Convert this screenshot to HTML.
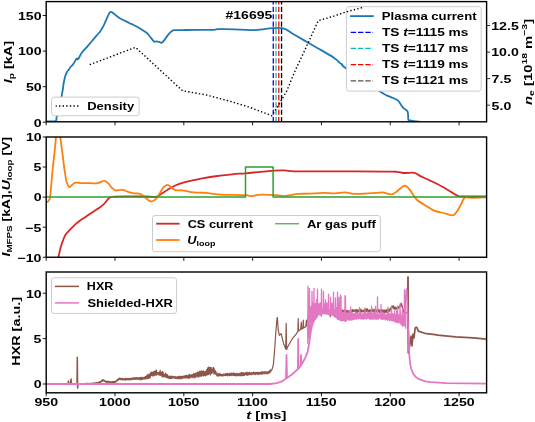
<!DOCTYPE html>
<html><head><meta charset="utf-8"><style>
html,body{margin:0;padding:0;background:#fff;width:535px;height:422px;overflow:hidden}
svg{display:block;will-change:transform}
</style></head><body>
<svg width="535" height="422" viewBox="0 0 535 422"><defs>
<clipPath id="c0"><rect x="46.2" y="1.6" width="440.40000000000003" height="120.2"/></clipPath>
<clipPath id="c1"><rect x="46.2" y="137.0" width="440.40000000000003" height="120.25"/></clipPath>
<clipPath id="c2"><rect x="46.2" y="272.0" width="440.40000000000003" height="120.80000000000001"/></clipPath>
</defs>
<g clip-path="url(#c0)">
<path d="M46.50,121.30 C48.00,121.28 53.83,121.80 55.50,121.20 C57.17,120.60 56.12,119.15 56.50,117.70 C56.88,116.25 57.30,114.62 57.80,112.50 C58.30,110.38 58.90,107.60 59.50,105.00 C60.10,102.40 60.88,99.27 61.40,96.90 C61.92,94.53 62.22,93.12 62.60,90.80 C62.98,88.48 63.27,85.43 63.70,83.00 C64.13,80.57 64.68,77.98 65.20,76.20 C65.72,74.42 66.15,73.47 66.80,72.30 C67.45,71.13 68.47,70.10 69.10,69.20 C69.73,68.30 70.22,67.40 70.60,66.90 C70.98,66.40 70.92,66.72 71.40,66.20 C71.88,65.68 72.77,64.88 73.50,63.80 C74.23,62.72 75.22,60.60 75.80,59.70 C76.38,58.80 76.67,58.45 77.00,58.40 C77.33,58.35 77.53,59.38 77.80,59.40 C78.07,59.42 77.97,59.55 78.60,58.50 C79.23,57.45 80.27,54.97 81.60,53.10 C82.93,51.23 84.93,49.23 86.60,47.30 C88.27,45.37 89.95,43.43 91.60,41.50 C93.25,39.57 94.98,37.50 96.50,35.70 C98.02,33.90 99.45,32.50 100.70,30.70 C101.95,28.90 103.03,26.83 104.00,24.90 C104.97,22.97 105.75,20.77 106.50,19.10 C107.25,17.43 107.95,16.02 108.50,14.90 C109.05,13.78 109.30,12.87 109.80,12.40 C110.30,11.93 110.90,11.95 111.50,12.10 C112.10,12.25 112.58,12.68 113.40,13.30 C114.22,13.92 115.33,14.98 116.40,15.80 C117.47,16.62 118.42,17.38 119.80,18.20 C121.18,19.02 123.05,19.87 124.70,20.70 C126.35,21.53 127.98,22.37 129.70,23.20 C131.42,24.03 133.28,24.82 135.00,25.70 C136.72,26.58 138.07,27.32 140.00,28.50 C141.93,29.68 144.95,31.47 146.60,32.80 C148.25,34.13 148.67,35.05 149.90,36.50 C151.13,37.95 152.90,40.70 154.00,41.50 C155.10,42.30 155.67,41.25 156.50,41.30 C157.33,41.35 158.17,41.55 159.00,41.80 C159.83,42.05 160.67,43.00 161.50,42.80 C162.33,42.60 162.90,41.93 164.00,40.60 C165.10,39.27 166.72,36.45 168.10,34.80 C169.48,33.15 171.18,31.48 172.30,30.70 C173.42,29.92 173.52,30.20 174.80,30.10 C176.08,30.00 178.13,30.12 180.00,30.10 C181.87,30.08 182.67,30.03 186.00,30.00 C189.33,29.97 195.33,29.93 200.00,29.90 C204.67,29.87 211.17,29.92 214.00,29.80 C216.83,29.68 215.17,29.30 217.00,29.20 C218.83,29.10 221.17,29.13 225.00,29.20 C228.83,29.27 235.02,29.45 240.00,29.60 C244.98,29.75 251.23,30.13 254.90,30.10 C258.57,30.07 259.50,29.68 262.00,29.40 C264.50,29.12 266.35,28.58 269.90,28.40 C273.45,28.22 279.57,27.45 283.30,28.30 C287.03,29.15 288.68,31.40 292.30,33.50 C295.92,35.60 302.38,39.38 305.00,40.90 C307.62,42.42 305.32,41.07 308.00,42.60 C310.68,44.13 316.73,47.55 321.10,50.10 C325.47,52.65 331.05,55.73 334.20,57.90 C337.35,60.07 338.65,61.98 340.00,63.10 C341.35,64.22 341.27,63.70 342.30,64.60 C343.33,65.50 339.78,63.92 346.20,68.50 C352.62,73.08 374.13,87.67 380.80,92.10 C387.47,96.53 384.27,94.15 386.20,95.10 C388.13,96.05 390.47,96.92 392.40,97.80 C394.33,98.68 396.38,99.25 397.80,100.40 C399.22,101.55 400.00,103.47 400.90,104.70 C401.80,105.93 402.08,106.65 403.20,107.80 C404.32,108.95 406.75,109.68 407.60,111.60 C408.45,113.52 408.00,117.83 408.30,119.30 C408.60,120.77 408.42,120.08 409.40,120.40 C410.38,120.72 412.43,121.00 414.20,121.20 C415.97,121.40 419.03,121.53 420.00,121.60" fill="none" stroke="#1f77b4" stroke-width="1.8" stroke-linejoin="round" />
<line x1="273.28125" y1="1.6" x2="273.28125" y2="121.8" stroke="#0000ff" stroke-width="1.3" stroke-dasharray="5.15 2.2" stroke-dashoffset="2.15"/>
<line x1="276.03375" y1="1.6" x2="276.03375" y2="121.8" stroke="#20b2aa" stroke-width="1.3" stroke-dasharray="5.15 2.2" stroke-dashoffset="2.15"/>
<line x1="278.78625" y1="1.6" x2="278.78625" y2="121.8" stroke="#ff0000" stroke-width="1.3" stroke-dasharray="5.15 2.2" stroke-dashoffset="2.15"/>
<line x1="281.53875" y1="1.6" x2="281.53875" y2="121.8" stroke="#000000" stroke-width="1.3" stroke-dasharray="5.15 2.2" stroke-dashoffset="2.15"/>
</g>
<g clip-path="url(#c1)">
<path d="M58.20,258.00 C58.62,256.20 59.87,250.23 60.70,247.20 C61.53,244.17 62.37,241.93 63.20,239.80 C64.03,237.67 64.58,236.07 65.70,234.40 C66.82,232.73 68.38,231.40 69.90,229.80 C71.42,228.20 73.15,226.32 74.80,224.80 C76.45,223.28 78.13,221.93 79.80,220.70 C81.47,219.47 83.13,218.52 84.80,217.40 C86.47,216.28 88.15,215.12 89.80,214.00 C91.45,212.88 93.05,211.80 94.70,210.70 C96.35,209.60 98.18,208.50 99.70,207.40 C101.22,206.30 102.82,204.98 103.80,204.10 C104.78,203.22 104.90,202.93 105.60,202.10 C106.30,201.27 107.22,199.88 108.00,199.10 C108.78,198.32 109.13,197.82 110.30,197.40 C111.47,196.98 111.72,196.77 115.00,196.60 C118.28,196.43 125.00,196.42 130.00,196.40 C135.00,196.38 140.67,196.43 145.00,196.50 C149.33,196.57 153.22,197.28 156.00,196.80 C158.78,196.32 159.82,194.75 161.70,193.60 C163.58,192.45 165.12,191.20 167.30,189.90 C169.48,188.60 172.00,187.05 174.80,185.80 C177.60,184.55 180.98,183.33 184.10,182.40 C187.22,181.47 190.85,180.78 193.50,180.20 C196.15,179.62 196.63,179.52 200.00,178.90 C203.37,178.28 208.30,177.27 213.70,176.50 C219.10,175.73 227.10,174.83 232.40,174.30 C237.70,173.77 240.83,173.72 245.50,173.30 C250.17,172.88 256.05,172.20 260.40,171.80 C264.75,171.40 267.85,171.15 271.60,170.90 C275.35,170.65 279.00,170.23 282.90,170.30 C286.80,170.37 287.15,171.13 295.00,171.30 C302.85,171.47 315.00,171.25 330.00,171.30 C345.00,171.35 373.87,171.52 385.00,171.60 C396.13,171.68 393.70,171.57 396.80,171.80 C399.90,172.03 400.67,172.83 403.60,173.00 C406.53,173.17 411.62,172.28 414.40,172.80 C417.18,173.32 417.68,174.80 420.30,176.10 C422.92,177.40 426.50,178.87 430.10,180.60 C433.70,182.33 438.30,184.53 441.90,186.50 C445.50,188.47 449.02,190.83 451.70,192.40 C454.38,193.97 456.03,195.25 458.00,195.90 C459.97,196.55 458.73,196.23 463.50,196.30 C468.27,196.37 482.75,196.30 486.60,196.30" fill="none" stroke="#d62728" stroke-width="1.8" stroke-linejoin="round" />
<path d="M46.50,201.50 C46.67,201.57 47.07,202.15 47.50,201.90 C47.93,201.65 48.63,201.02 49.10,200.00 C49.57,198.98 49.75,200.55 50.30,195.80 C50.85,191.05 51.68,178.87 52.40,171.50 C53.12,164.13 53.98,157.52 54.60,151.60 C55.22,145.68 55.70,139.93 56.10,136.00 C56.50,132.07 56.63,129.67 57.00,128.00 C57.37,126.33 57.88,125.67 58.30,126.00 C58.72,126.33 59.18,128.23 59.50,130.00 C59.82,131.77 59.72,132.73 60.20,136.60 C60.68,140.47 61.68,147.67 62.40,153.20 C63.12,158.73 63.82,165.10 64.50,169.80 C65.18,174.50 65.83,178.63 66.50,181.40 C67.17,184.17 67.93,185.48 68.50,186.40 C69.07,187.32 69.27,187.18 69.90,186.90 C70.53,186.62 71.33,185.40 72.30,184.70 C73.27,184.00 74.17,182.97 75.70,182.70 C77.23,182.43 79.15,183.03 81.50,183.10 C83.85,183.17 87.32,183.05 89.80,183.10 C92.28,183.15 94.47,183.63 96.40,183.40 C98.33,183.17 100.02,182.12 101.40,181.70 C102.78,181.28 103.53,180.62 104.70,180.90 C105.87,181.18 107.17,182.22 108.40,183.40 C109.63,184.58 110.85,186.82 112.10,188.00 C113.35,189.18 114.18,190.18 115.90,190.50 C117.62,190.82 120.38,189.68 122.40,189.90 C124.42,190.12 126.13,191.23 128.00,191.80 C129.87,192.37 131.72,193.00 133.60,193.30 C135.48,193.60 137.73,193.23 139.30,193.60 C140.87,193.97 141.60,194.50 143.00,195.50 C144.40,196.50 146.30,198.60 147.70,199.60 C149.10,200.60 150.17,201.50 151.40,201.50 C152.63,201.50 153.85,200.75 155.10,199.60 C156.35,198.45 157.48,196.68 158.90,194.60 C160.32,192.52 162.20,188.72 163.60,187.10 C165.00,185.48 166.07,184.90 167.30,184.90 C168.53,184.90 169.60,186.20 171.00,187.10 C172.40,188.00 173.83,189.77 175.70,190.30 C177.57,190.83 179.87,190.05 182.20,190.30 C184.53,190.55 186.73,191.40 189.70,191.80 C192.67,192.20 197.25,192.52 200.00,192.70 C202.75,192.88 203.30,192.63 206.20,192.90 C209.10,193.17 213.97,193.98 217.40,194.30 C220.83,194.62 222.12,194.65 226.80,194.80 C231.48,194.95 241.45,194.98 245.50,195.20 C249.55,195.42 248.92,196.17 251.10,196.10 C253.28,196.03 255.48,195.02 258.60,194.80 C261.72,194.58 266.70,194.73 269.80,194.80 C272.90,194.87 274.72,194.98 277.20,195.20 C279.68,195.42 282.57,196.10 284.70,196.10 C286.83,196.10 287.57,195.57 290.00,195.20 C292.43,194.83 296.18,194.15 299.30,193.90 C302.42,193.65 304.65,193.87 308.70,193.70 C312.75,193.53 319.23,192.97 323.60,192.90 C327.97,192.83 331.32,193.38 334.90,193.30 C338.48,193.22 341.98,192.30 345.10,192.40 C348.22,192.50 350.32,193.68 353.60,193.90 C356.88,194.12 361.07,193.87 364.80,193.70 C368.53,193.53 372.88,193.12 376.00,192.90 C379.12,192.68 382.00,192.38 383.50,192.40 C385.00,192.42 383.60,192.68 385.00,193.00 C386.40,193.32 389.93,194.57 391.90,194.30 C393.87,194.03 395.00,192.70 396.80,191.40 C398.60,190.10 401.23,187.42 402.70,186.50 C404.17,185.58 404.47,185.42 405.60,185.90 C406.73,186.38 408.18,187.83 409.50,189.40 C410.82,190.97 412.18,193.50 413.50,195.30 C414.82,197.10 415.60,198.63 417.40,200.20 C419.20,201.77 421.52,202.97 424.30,204.70 C427.08,206.43 430.83,209.22 434.10,210.60 C437.37,211.98 440.80,212.22 443.90,213.00 C447.00,213.78 450.58,215.47 452.70,215.30 C454.82,215.13 455.28,213.70 456.60,212.00 C457.92,210.30 459.45,207.22 460.60,205.10 C461.75,202.98 462.68,200.60 463.50,199.30 C464.32,198.00 464.18,197.53 465.50,197.30 C466.82,197.07 467.88,197.90 471.40,197.90 C474.92,197.90 484.07,197.40 486.60,197.30" fill="none" stroke="#ff7f0e" stroke-width="1.8" stroke-linejoin="round" />
<polyline points="46.20,197.10 245.50,197.10 245.50,167.10 273.10,167.10 273.10,197.10 486.60,197.10" fill="none" stroke="#2ca02c" stroke-width="1.5" stroke-linejoin="round" stroke-linecap="butt" />
</g>
<g clip-path="url(#c2)">
<polyline points="46.20,384.00 68.00,384.00 68.50,381.10 69.00,384.00 70.60,384.00 71.00,378.90 71.50,384.00 77.00,384.00 77.30,357.20 77.60,388.10 78.00,384.20" fill="none" stroke="#8c564b" stroke-width="1.5" stroke-linejoin="round" stroke-linecap="butt" />
<polyline points="78.00,384.20 78.00,383.79 78.30,383.97 78.60,383.84 78.90,384.16 79.20,383.60 79.50,383.91 79.80,383.59 80.10,384.13 80.40,383.71 80.70,384.05 81.00,383.74 81.30,384.12 81.60,383.78 81.90,384.10 82.20,383.73 82.50,384.14 82.80,383.62 83.10,384.15 83.40,383.56 83.70,384.05 84.00,383.68 84.30,384.00 84.60,383.45 84.90,383.82 85.20,383.71 85.50,383.84 85.80,383.49 86.10,384.00 86.40,383.47 86.70,384.09 87.00,383.39 87.30,383.95 87.60,383.40 87.90,384.06 88.20,383.64 88.50,383.94 88.80,383.39 89.10,383.87 89.40,383.41 89.70,383.91 90.00,383.40 90.30,383.89 90.60,383.47 90.90,383.84 91.20,383.33 91.50,383.70 91.80,383.46 92.10,383.90 92.40,383.11 92.70,383.89 93.00,383.41 93.30,383.51 93.60,383.04 93.90,383.45 94.20,382.97 94.50,383.61 94.80,383.04 95.10,383.37 95.40,382.70 95.70,383.52 96.00,382.80 96.30,383.54 96.60,382.44 96.90,383.21 97.20,382.64 97.50,382.91 97.80,382.46 98.10,382.78 98.40,382.22 98.70,382.59 99.00,382.05 99.30,382.54 99.60,381.62 99.90,382.76 100.20,381.62 100.50,382.52 100.80,381.44 101.10,381.90 101.40,380.60 101.70,381.31 102.00,380.08 102.30,381.44 102.60,379.66 102.90,380.70 103.20,379.82 103.50,380.85 103.80,379.80 104.10,381.09 104.40,380.50 104.70,381.47 105.00,381.01 105.30,381.89 105.60,380.80 105.90,381.89 106.20,381.43 106.50,382.35 106.80,381.42 107.10,382.49 107.40,381.43 107.70,382.13 108.00,381.19 108.30,382.23 108.60,381.27 108.90,382.15 109.20,381.68 109.50,382.54 109.80,381.84 110.10,382.46 110.40,381.84 110.70,382.74 111.00,381.71 111.30,382.43 111.60,381.94 111.90,382.77 112.20,381.61 112.50,382.37 112.80,381.66 113.10,382.75 113.40,381.68 113.70,382.65 114.00,381.38 114.30,382.18 114.60,381.37 114.90,382.48 115.20,381.74 115.50,382.19 115.80,381.14 116.10,381.51 116.40,380.38 116.70,381.08 117.00,380.03 117.30,380.47 117.60,379.38 117.90,380.38 118.20,378.91 118.50,380.03 118.80,378.71 119.10,379.69 119.40,378.03 119.70,379.01 120.00,378.05 120.30,379.58 120.60,378.55 120.90,379.66 121.20,378.72 121.50,379.38 121.80,378.48 122.10,379.59 122.40,378.25 122.70,380.03 123.00,379.10 123.30,379.83 123.60,378.79 123.90,379.72 124.20,378.88 124.50,379.77 124.80,378.61 125.10,380.13 125.40,378.46 125.70,380.00 126.00,378.57 126.30,379.31 126.60,378.47 126.90,379.80 127.20,378.46 127.50,379.65 127.80,378.97 128.10,379.31 128.40,378.37 128.70,379.86 129.00,378.81 129.30,379.60 129.60,378.56 129.90,379.97 130.20,378.69 130.50,379.69 130.80,378.27 131.10,379.77 131.40,378.14 131.70,379.09 132.00,378.49 132.30,379.40 132.60,378.38 132.90,379.38 133.20,377.92 133.50,379.24 133.80,377.71 134.10,379.48 134.40,378.23 134.70,379.02 135.00,377.54 135.30,379.07 135.60,378.35 135.90,379.39 136.20,377.53 136.50,379.14 136.80,377.72 137.10,379.20 137.40,377.86 137.70,379.21 138.00,377.72 138.30,379.41 138.60,378.02 138.90,379.24 139.20,377.65 139.50,378.87 139.80,377.74 140.10,379.63 140.40,377.62 140.70,379.86 141.00,377.70 141.30,378.93 141.60,377.95 141.90,379.60 142.20,377.10 142.50,379.37 142.80,377.82 143.10,379.09 143.40,377.93 143.70,378.78 144.00,377.40 144.30,378.55 144.60,377.48 144.90,379.10 145.20,376.56 145.50,378.75 145.80,376.55 146.10,378.99 146.40,376.12 146.70,377.92 147.00,375.22 147.30,378.57 147.60,374.91 147.90,378.07 148.20,376.06 148.50,378.36 148.80,374.17 149.10,377.86 149.40,374.40 149.70,377.97 150.00,374.01 150.30,377.36 150.60,372.97 150.90,375.47 151.20,372.14 151.50,375.47 151.80,372.09 152.10,375.58 152.40,372.63 152.70,375.91 153.00,372.40 153.30,373.51 153.60,371.48 153.90,375.83 154.20,371.30 154.50,374.05 154.80,371.45 155.10,375.09 155.40,372.13 155.70,373.34 156.00,370.14 156.30,375.09 156.60,370.36 156.90,373.95 157.20,372.92 157.50,373.81 157.80,372.53 158.10,374.74 158.40,372.70 158.70,374.99 159.00,373.25 159.30,374.93 159.60,371.50 159.90,375.23 160.20,370.39 160.50,374.65 160.80,372.37 161.10,375.70 161.40,373.04 161.70,374.89 162.00,371.81 162.30,376.94 162.60,371.49 162.90,376.78 163.20,372.25 163.50,376.25 163.80,374.21 164.10,376.84 164.40,374.45 164.70,376.08 165.00,374.66 165.30,376.89 165.60,373.21 165.90,376.30 166.20,374.09 166.50,377.73 166.80,375.42 167.10,376.88 167.40,374.64 167.70,377.78 168.00,376.16 168.30,377.93 168.60,376.03 168.90,378.28 169.20,376.46 169.50,378.43 169.80,376.30 170.10,378.66 170.40,376.48 170.70,377.62 171.00,375.93 171.30,378.42 171.60,376.89 171.90,378.02 172.20,376.37 172.50,378.04 172.80,376.62 173.10,377.79 173.40,376.48 173.70,377.97 174.00,376.97 174.30,378.04 174.60,376.72 174.90,378.11 175.20,377.14 175.50,378.51 175.80,376.28 176.10,377.78 176.40,377.10 176.70,378.70 177.00,377.09 177.30,378.58 177.60,376.73 177.90,377.83 178.20,376.67 178.50,378.53 178.80,376.46 179.10,378.78 179.40,376.32 179.70,378.51 180.00,376.22 180.30,378.76 180.60,376.57 180.90,378.55 181.20,376.89 181.50,377.60 181.80,376.25 182.10,378.04 182.40,376.52 182.70,378.67 183.00,375.99 183.30,377.58 183.60,376.42 183.90,377.66 184.20,375.84 184.50,377.92 184.80,376.88 185.10,377.51 185.40,375.58 185.70,377.91 186.00,375.93 186.30,377.48 186.60,375.32 186.90,378.17 187.20,376.32 187.50,377.78 187.80,375.59 188.10,376.87 188.40,375.20 188.70,378.40 189.00,375.17 189.30,378.16 189.60,374.43 189.90,377.33 190.20,375.93 190.50,377.23 190.80,375.20 191.10,377.68 191.40,374.90 191.70,376.72 192.00,374.79 192.30,376.52 192.60,374.56 192.90,377.78 193.20,374.48 193.50,377.06 193.80,373.36 194.10,376.68 194.40,374.75 194.70,377.79 195.00,373.95 195.30,376.21 195.60,373.41 195.90,377.22 196.20,373.14 196.50,376.39 196.80,373.75 197.10,376.19 197.40,372.06 197.70,375.36 198.00,374.02 198.30,377.11 198.60,372.04 198.90,376.78 199.20,373.47 199.50,374.64 199.80,371.09 200.10,376.06 200.40,371.30 200.70,375.54 201.00,373.15 201.30,376.52 201.60,370.87 201.90,375.20 202.20,371.69 202.50,374.32 202.80,371.26 203.10,375.91 203.40,370.84 203.70,373.33 204.00,371.82 204.30,375.71 204.60,371.81 204.90,375.00 205.20,371.52 205.50,375.79 205.80,371.50 206.10,375.21 206.40,369.83 206.70,373.40 207.00,369.66 207.30,374.97 207.60,367.98 207.90,374.42 208.20,367.26 208.50,374.54 208.80,367.15 209.10,373.45 209.40,367.90 209.70,372.89 210.00,367.59 210.30,374.95 210.60,367.77 210.90,372.10 211.20,367.47 211.50,373.36 211.80,369.33 212.10,373.27 212.40,369.82 212.70,371.34 213.00,367.78 213.30,371.95 213.60,367.65 213.90,373.94 214.20,368.34 214.50,372.30 214.80,370.03 215.10,373.89 215.40,370.76 215.70,374.14 216.00,371.90 216.30,374.47 216.60,373.70 216.90,375.82 217.20,374.10 217.50,375.95 217.80,372.99 218.10,375.71 218.40,374.34 218.70,376.25 219.00,374.41 219.30,375.48 219.60,373.24 219.90,375.64 220.20,373.88 220.50,375.64 220.80,374.27 221.10,375.44 221.40,374.63 221.70,376.17 222.00,374.34 222.30,375.77 222.60,374.27 222.90,375.05 223.20,374.55 223.50,375.91 223.80,373.77 224.10,374.92 224.40,374.44 224.70,375.70 225.00,374.41 225.30,375.62 225.60,373.61 225.90,375.10 226.20,373.72 226.50,375.50 226.80,373.59 227.10,375.49 227.40,373.24 227.70,375.96 228.00,374.05 228.30,375.25 228.60,373.92 228.90,374.90 229.20,373.32 229.50,375.62 229.80,373.37 230.10,375.50 230.40,373.98 230.70,375.41 231.00,373.39 231.30,375.05 231.60,373.18 231.90,375.76 232.20,373.85 232.50,374.88 232.80,373.29 233.10,375.03 233.40,372.91 233.70,375.35 234.00,373.64 234.30,375.55 234.60,373.30 234.90,375.05 235.20,373.62 235.50,375.68 235.80,373.76 236.10,375.79 236.40,374.12 236.70,375.61 237.00,373.08 237.30,375.61 237.60,374.13 237.90,375.49 238.20,373.55 238.50,374.46 238.80,374.04 239.10,375.84 239.40,373.39 239.70,375.01 240.00,373.64 240.30,375.38 240.60,373.06 240.90,375.82 241.20,372.62 241.50,374.98 241.80,372.66 242.10,375.44 242.40,373.00 242.70,375.58 243.00,372.55 243.30,374.33 243.60,373.10 243.90,375.30 244.20,373.46 244.50,375.53 244.80,372.79 245.10,374.18 245.40,373.66 245.70,374.58 246.00,372.55 246.30,374.97 246.60,372.44 246.90,375.06 247.20,372.42 247.50,375.13 247.80,373.20 248.10,375.12 248.40,372.55 248.70,374.04 249.00,372.76 249.30,374.73 249.60,372.42 249.90,374.10 250.20,373.14 250.50,374.38 250.80,373.04 251.10,374.91 251.40,372.56 251.70,374.26 252.00,373.39 252.30,373.94 252.60,372.97 252.90,374.27 253.20,372.16 253.50,373.78 253.80,372.19 254.10,374.68 254.40,372.94 254.70,373.80 255.00,373.02 255.30,374.21 255.60,372.24 255.90,374.69 256.20,373.03 256.50,373.50 256.80,372.26 257.10,373.60 257.40,372.42 257.70,374.24 258.00,372.51 258.30,374.57 258.60,372.39 258.90,374.29 259.20,372.67 259.50,373.88 259.80,372.82 260.10,373.36 260.40,372.10 260.70,374.07 261.00,372.81 261.30,373.75 261.60,371.73 261.90,374.27 262.20,372.79 262.50,373.57 262.80,371.58 263.10,373.61 263.40,372.09 263.70,373.66 264.00,372.60 264.30,372.98 264.60,371.53 264.90,373.93 265.20,371.83 265.50,373.03 265.80,372.06 266.10,373.12 266.40,371.95 266.70,373.73 267.00,372.21 267.30,373.93 267.60,372.01 267.90,373.66 268.20,371.59 268.50,372.38 268.80,371.37 269.10,373.08 269.40,370.94 269.70,372.02 270.00,370.25 270.30,372.06 270.60,369.93 270.90,371.39 271.20,369.99 272.00,369.60 273.40,364.40 274.30,354.00 276.00,330.00 277.00,318.50 277.40,317.50 278.20,330.00 279.40,335.40 281.10,333.70 283.70,343.90 285.70,349.00 286.20,323.40 286.60,349.50 287.90,346.50 292.20,338.80 296.50,333.70 297.90,331.00 298.20,318.50 298.50,331.00 300.70,329.40 301.30,322.00 301.80,329.00 303.00,328.50 303.30,320.00 303.70,328.00 305.80,326.80 306.40,320.00 307.00,326.00 308.00,318.00 308.60,311.00 308.60,309.74 308.90,310.46 309.20,309.97 309.50,311.48 309.80,309.27 310.10,310.52 310.40,308.84 310.70,310.60 311.00,310.04 311.30,311.15 311.60,309.31 311.90,311.44 312.20,309.25 312.50,311.20 312.80,309.63 313.10,311.05 313.40,310.38 313.70,310.70 314.00,309.83 314.30,310.42 314.60,309.23 314.90,311.67 315.20,309.83 315.50,311.86 315.80,308.98 316.10,311.16 316.40,309.64 316.70,310.57 317.00,309.89 317.30,311.18 317.60,309.70 317.90,311.59 318.20,308.99 318.50,311.69 318.80,310.02 319.10,311.68 319.40,309.54 319.70,311.99 320.00,310.25 320.30,311.78 320.60,309.42 320.90,310.71 321.20,316.00 321.50,310.78 321.80,310.02 322.10,310.96 322.40,309.21 322.70,311.29 323.00,309.86 323.30,310.81 323.60,309.66 323.90,311.25 324.20,309.22 324.50,311.59 324.80,309.64 325.10,311.97 325.40,310.41 325.70,311.65 326.00,310.68 326.30,311.35 326.60,310.13 326.90,311.30 327.20,310.26 327.50,312.07 327.80,309.91 328.10,311.95 328.40,309.87 328.70,312.20 329.00,310.77 329.30,312.04 329.60,310.33 329.90,311.93 330.20,316.80 330.50,311.40 330.80,309.54 331.10,311.14 331.40,310.83 331.70,311.07 332.00,310.28 332.30,312.27 332.60,309.73 332.90,311.09 333.20,310.31 333.50,312.26 333.80,310.84 334.10,311.58 334.40,310.39 334.70,312.01 335.00,310.18 335.30,312.25 335.60,309.64 335.90,311.30 336.20,310.32 336.50,311.83 336.80,310.13 337.10,311.55 337.40,309.71 337.70,312.15 338.00,319.60 338.30,312.55 338.60,311.19 338.90,311.77 339.20,310.40 339.50,311.99 339.80,311.10 340.10,312.29 340.40,310.71 340.70,311.82 341.00,310.39 341.30,312.10 341.60,311.05 341.90,311.55 342.20,310.16 342.50,311.55 342.80,309.98 343.10,318.00 343.40,311.23 343.70,312.82 344.00,310.67 344.30,311.84 344.60,310.10 344.90,312.16 345.20,311.31 345.50,312.37 345.80,311.25 346.10,312.84 346.40,310.49 346.70,312.64 347.00,310.41 347.30,312.60 347.60,311.50 347.90,312.20 348.20,310.51 348.50,312.60 348.80,311.38 349.10,312.28 349.40,311.36 349.70,312.11 350.00,310.59 350.30,311.46 350.60,310.86 350.90,316.50 351.20,310.30 351.50,311.36 351.80,310.21 352.10,311.23 352.40,309.59 352.70,311.95 353.00,310.24 353.30,311.07 353.60,309.77 353.90,311.28 354.20,310.43 354.50,311.40 354.80,310.32 355.10,310.96 355.40,309.81 355.70,311.87 356.00,309.57 356.30,312.42 356.60,309.55 356.90,310.97 357.20,310.56 357.50,312.29 357.80,310.13 358.10,311.65 358.40,310.09 358.70,311.33 359.00,309.57 359.30,310.80 359.60,309.81 359.90,311.34 360.20,310.08 360.50,312.08 360.80,309.09 361.10,311.68 361.40,310.28 361.70,310.99 362.00,310.21 362.30,312.17 362.60,310.51 362.90,310.99 363.20,310.44 363.50,311.45 363.80,310.49 364.10,312.25 364.40,308.98 364.70,312.29 365.00,309.35 365.30,311.89 365.60,309.23 365.90,311.34 366.20,308.96 366.50,311.29 366.80,309.17 367.10,311.13 367.40,308.91 367.70,311.74 368.00,310.46 368.30,311.35 368.60,310.24 368.90,311.13 369.20,309.88 369.50,311.92 369.80,309.81 370.10,312.16 370.40,310.19 370.70,310.59 371.00,310.27 371.30,312.13 371.60,309.38 371.90,311.66 372.20,309.00 372.50,311.16 372.80,310.20 373.10,311.73 373.40,310.34 373.70,310.94 374.00,309.13 374.30,311.02 374.60,310.44 374.90,312.02 375.20,309.95 375.50,311.31 375.80,310.04 376.10,312.26 376.40,310.17 376.70,311.38 377.00,310.47 377.30,311.12 377.60,309.66 377.90,311.30 378.20,310.61 378.50,311.04 378.80,309.45 379.10,312.54 379.40,310.32 379.70,312.27 380.00,310.24 380.30,311.10 380.60,310.00 380.90,312.32 381.20,310.20 381.50,311.71 381.80,309.68 382.10,312.23 382.40,309.80 382.70,311.82 383.00,311.02 383.30,312.35 383.60,310.34 383.90,312.15 384.20,310.15 384.50,312.68 384.80,310.41 385.10,312.40 385.40,310.08 385.70,311.99 386.00,310.84 386.30,312.51 386.60,309.75 386.90,311.50 387.20,309.55 387.50,312.29 387.80,309.27 388.10,312.13 388.40,310.30 388.70,311.57 389.00,309.00 389.30,310.35 389.60,309.27 389.90,311.21 390.20,308.48 390.50,309.22 390.80,307.52 391.10,308.63 391.40,306.21 391.70,307.72 392.00,306.47 392.30,306.68 392.60,306.12 392.90,307.86 393.20,305.63 393.50,308.08 393.80,307.19 394.10,309.04 394.40,306.92 394.70,308.97 395.00,308.12 395.30,308.60 395.60,307.07 395.90,309.55 396.20,307.97 396.50,308.74 396.80,307.74 397.10,308.10 397.40,307.95 397.70,308.15 398.00,307.33 398.30,308.32 398.60,306.63 398.90,308.14 399.20,306.31 399.50,306.78 399.80,305.75 400.10,306.70 400.40,304.53 400.70,305.94 401.00,303.22 401.30,304.50 401.60,303.69 401.90,306.42 402.20,305.95 402.50,308.17 402.80,307.95 403.10,310.25 403.40,311.00 403.70,312.37 404.00,310.26 404.30,311.73 404.60,311.38 404.90,312.36 407.60,313.00 408.00,276.70 408.40,352.90" fill="none" stroke="#8c564b" stroke-width="1.2" stroke-linejoin="round" stroke-linecap="butt" />
<polyline points="408.00,276.70 408.40,352.90 409.80,344.80 411.00,336.00 412.00,346.00 413.00,334.00 414.00,338.00 415.20,327.70 416.80,327.30 418.40,331.10 424.80,333.30 435.00,334.60 437.80,335.10 455.50,336.90 473.30,337.80 486.60,339.20" fill="none" stroke="#8c564b" stroke-width="1.7" stroke-linejoin="round" stroke-linecap="butt" />
<polyline points="46.20,384.00 270.00,384.00 276.80,383.10 281.90,381.40 286.00,378.60 286.50,355.00 287.00,378.00 292.20,374.30 297.90,369.00 298.20,338.80 298.50,368.80 300.70,365.50 301.00,355.00 301.30,365.00 305.00,358.40 307.50,352.40 308.50,347.00 309.60,340.50 311.00,330.20 312.70,323.40 314.60,319.60 317.50,316.20" fill="none" stroke="#e377c2" stroke-width="1.8" stroke-linejoin="round" stroke-linecap="butt" />
<polyline points="307.50,322.33 307.75,343.15 308.00,286.20 308.25,336.88 308.50,295.00 308.75,335.40 309.00,304.00 309.25,339.35 309.50,288.50 309.75,333.29 310.00,318.93 310.25,328.53 310.50,312.30 310.75,329.35 311.00,306.37 311.25,325.01 311.50,309.39 311.75,321.38 312.00,291.40 312.25,320.87 312.50,302.05 312.75,322.33 313.00,311.30 313.25,319.46 313.50,311.62 313.75,318.98 314.00,288.50 314.25,319.49 314.50,305.00 314.75,318.94 315.00,305.43 315.25,318.46 315.50,303.44 315.75,317.13 316.00,310.11 316.25,316.08 316.50,299.90 316.75,316.25 317.00,309.27 317.25,315.29 317.50,289.22 317.75,315.70 318.00,309.43 318.25,314.78 318.50,304.00 318.75,313.89 319.00,304.79 319.25,313.77 319.50,308.79 319.75,314.88 320.00,302.77 320.25,314.14 320.50,310.94 320.75,313.69 321.00,309.82 321.25,314.51 321.50,289.20 321.75,313.96 322.00,309.06 322.25,313.81 322.50,310.43 322.75,313.47 323.00,311.15 323.25,313.17 323.50,291.40 323.75,313.85 324.00,310.18 324.25,313.55 324.50,308.42 324.75,313.25 325.00,303.72 325.25,313.90 325.50,299.90 325.75,313.44 326.00,307.44 326.25,313.21 326.50,302.89 326.75,314.24 327.00,311.12 327.25,313.76 327.50,308.77 327.75,314.09 328.00,302.88 328.25,313.44 328.50,294.20 328.75,314.63 329.00,310.07 329.25,314.69 329.50,310.86 329.75,314.67 330.00,310.74 330.25,314.08 330.50,297.10 330.75,314.43 331.00,311.75 331.25,314.92 331.50,303.47 331.75,314.76 332.00,312.54 332.25,315.15 332.50,304.73 332.75,315.12 333.00,302.07 333.25,315.32 333.50,292.10 333.75,315.67 334.00,311.55 334.25,316.61 334.50,309.88 334.75,315.74 335.00,310.94 335.25,317.06 335.50,298.00 335.75,317.02 336.00,312.33 336.25,317.73 336.50,307.68 336.75,316.71 337.00,313.64 337.25,317.92 337.50,292.10 337.75,317.83 338.00,311.96 338.25,318.51 338.50,310.51 338.75,318.02 339.00,297.38 339.25,318.82 339.50,314.33 339.75,320.02 340.00,313.87 340.25,318.29 340.50,294.90 340.75,320.54 341.00,296.00 341.25,318.25 341.50,311.00 341.75,320.79 342.00,313.14 342.25,320.98 342.50,312.41 342.75,320.32 343.00,314.39 343.25,319.31 343.50,312.39 343.75,320.40 344.00,315.83 344.25,320.38 344.50,314.40 344.75,321.03 345.00,295.60 345.25,318.96 345.50,296.10 345.75,321.32 346.00,315.15 346.25,318.89 346.50,313.41 346.75,320.60 347.00,312.85 347.25,318.57 347.50,315.44 347.75,319.19 348.00,314.13 348.25,319.07 348.50,314.80 348.75,319.90 349.00,311.44 349.25,320.35 349.50,314.37 349.75,318.25 350.00,313.98 350.25,319.67 350.50,307.00 350.75,319.91 351.00,309.70 351.25,318.86 351.50,314.73 351.75,320.05 352.00,313.26 352.25,319.94 352.50,313.05 352.75,318.49 353.00,314.92 353.25,319.33 353.50,315.04 353.75,318.60 354.00,313.18 354.25,319.29 354.50,313.98 354.75,318.05 355.00,314.34 355.25,318.78 355.50,312.00 355.75,317.48 356.00,312.87 356.25,319.10 356.50,314.15 356.75,318.19 357.00,313.90 357.25,318.63 357.50,313.87 357.75,318.58 358.00,313.79 358.25,318.84 358.50,313.94 358.75,318.50 359.00,313.17 359.25,317.66 359.50,307.40 359.75,317.53 360.00,313.26 360.25,318.46 360.50,313.81 360.75,319.06 361.00,312.89 361.25,317.72 361.50,313.96 361.75,318.66 362.00,314.22 362.25,318.28 362.50,314.43 362.75,319.17 363.00,314.66 363.25,317.94 363.50,313.53 363.75,319.09 364.00,313.39 364.25,318.01 364.50,314.26 364.75,317.78 365.00,308.00 365.25,318.49 365.50,312.29 365.75,317.96 366.00,313.74 366.25,319.09 366.50,314.79 366.75,317.83 367.00,314.12 367.25,318.26 367.50,311.96 367.75,317.97 368.00,313.69 368.25,317.91 368.50,312.73 368.75,318.36 369.00,314.65 369.25,318.29 369.50,313.56 369.75,319.17 370.00,313.41 370.25,318.61 370.50,312.05 370.75,319.09 371.00,315.27 371.25,318.62 371.50,306.20 371.75,318.73 372.00,313.23 372.25,317.37 372.50,313.40 372.75,319.12 373.00,313.69 373.25,318.83 373.50,312.52 373.75,319.16 374.00,312.32 374.25,317.41 374.50,312.93 374.75,317.44 375.00,314.51 375.25,319.03 375.50,306.50 375.75,317.58 376.00,313.95 376.25,319.47 376.50,314.19 376.75,317.87 377.00,313.90 377.25,318.14 377.50,296.80 377.75,318.72 378.00,314.91 378.25,319.39 378.50,314.03 378.75,317.91 379.00,314.74 379.25,317.86 379.50,314.67 379.75,317.94 380.00,313.77 380.25,318.25 380.50,314.45 380.75,318.35 381.00,304.60 381.25,319.14 381.50,313.28 381.75,319.10 382.00,313.02 382.25,318.47 382.50,312.25 382.75,319.53 383.00,314.73 383.25,319.20 383.50,315.66 383.75,318.44 384.00,312.88 384.25,318.39 384.50,314.16 384.75,319.09 385.00,313.55 385.25,319.59 385.50,315.58 385.75,319.82 386.00,315.62 386.25,318.18 386.50,314.70 386.75,319.46 387.00,313.90 387.25,320.26 387.50,313.44 387.75,318.41 388.00,307.00 388.25,319.32 388.50,314.31 388.75,318.45 389.00,314.36 389.25,320.48 389.50,313.10 389.75,320.75 390.00,315.58 390.25,319.00 390.50,314.31 390.75,319.91 391.00,314.47 391.25,319.21 391.50,306.60 391.75,320.74 392.00,314.31 392.25,320.85 392.50,313.69 392.75,319.44 393.00,315.23 393.25,320.76 393.50,314.49 393.75,320.82 394.00,316.43 394.25,321.34 394.50,310.83 394.75,320.48 395.00,315.77 395.25,321.88 395.50,314.89 395.75,320.44 396.00,315.85 396.25,322.58 396.50,310.96 396.75,320.21 397.00,316.02 397.25,321.96 397.50,305.90 397.75,322.14 398.00,315.42 398.25,322.87 398.50,315.42 398.75,320.49 399.00,314.68 399.25,321.29 399.50,316.76 399.75,322.83 400.00,304.00 400.25,323.02 400.50,311.56 400.75,323.32 401.00,317.25 401.25,324.92 401.50,316.58 401.75,324.93 402.00,314.88 402.25,324.84 402.50,308.89 402.75,326.24 403.00,313.70 403.25,324.91 403.50,316.31 403.75,325.45 404.00,316.66 404.25,324.95 404.50,289.60 404.75,325.24 405.00,295.00 405.25,325.89 405.50,319.84 405.75,328.15 406.00,292.00 406.40,289.00 406.80,289.50 407.40,300.00 408.40,330.00 409.00,350.00" fill="none" stroke="#e377c2" stroke-width="1.3" stroke-linejoin="round" stroke-linecap="butt" />
<polyline points="408.40,330.00 409.00,350.00 409.60,358.00 410.40,365.20 411.50,369.50 413.30,374.00 416.00,377.20 419.10,379.20 425.30,381.30 430.70,382.20 446.60,383.10 486.60,383.60" fill="none" stroke="#e377c2" stroke-width="1.8" stroke-linejoin="round" stroke-linecap="butt" />
</g>
<line x1="46.20" y1="121.8" x2="46.20" y2="125.3" stroke="#000" stroke-width="0.9"/>
<line x1="115.01" y1="121.8" x2="115.01" y2="125.3" stroke="#000" stroke-width="0.9"/>
<line x1="183.82" y1="121.8" x2="183.82" y2="125.3" stroke="#000" stroke-width="0.9"/>
<line x1="252.64" y1="121.8" x2="252.64" y2="125.3" stroke="#000" stroke-width="0.9"/>
<line x1="321.45" y1="121.8" x2="321.45" y2="125.3" stroke="#000" stroke-width="0.9"/>
<line x1="390.26" y1="121.8" x2="390.26" y2="125.3" stroke="#000" stroke-width="0.9"/>
<line x1="459.07" y1="121.8" x2="459.07" y2="125.3" stroke="#000" stroke-width="0.9"/>
<line x1="46.20" y1="257.25" x2="46.20" y2="260.75" stroke="#000" stroke-width="0.9"/>
<line x1="115.01" y1="257.25" x2="115.01" y2="260.75" stroke="#000" stroke-width="0.9"/>
<line x1="183.82" y1="257.25" x2="183.82" y2="260.75" stroke="#000" stroke-width="0.9"/>
<line x1="252.64" y1="257.25" x2="252.64" y2="260.75" stroke="#000" stroke-width="0.9"/>
<line x1="321.45" y1="257.25" x2="321.45" y2="260.75" stroke="#000" stroke-width="0.9"/>
<line x1="390.26" y1="257.25" x2="390.26" y2="260.75" stroke="#000" stroke-width="0.9"/>
<line x1="459.07" y1="257.25" x2="459.07" y2="260.75" stroke="#000" stroke-width="0.9"/>
<line x1="46.20" y1="392.8" x2="46.20" y2="396.3" stroke="#000" stroke-width="0.9"/>
<line x1="115.01" y1="392.8" x2="115.01" y2="396.3" stroke="#000" stroke-width="0.9"/>
<line x1="183.82" y1="392.8" x2="183.82" y2="396.3" stroke="#000" stroke-width="0.9"/>
<line x1="252.64" y1="392.8" x2="252.64" y2="396.3" stroke="#000" stroke-width="0.9"/>
<line x1="321.45" y1="392.8" x2="321.45" y2="396.3" stroke="#000" stroke-width="0.9"/>
<line x1="390.26" y1="392.8" x2="390.26" y2="396.3" stroke="#000" stroke-width="0.9"/>
<line x1="459.07" y1="392.8" x2="459.07" y2="396.3" stroke="#000" stroke-width="0.9"/>
<line x1="46.2" y1="122.2" x2="42.7" y2="122.2" stroke="#000" stroke-width="0.9"/>
<line x1="46.2" y1="86.7" x2="42.7" y2="86.7" stroke="#000" stroke-width="0.9"/>
<line x1="46.2" y1="51.1" x2="42.7" y2="51.1" stroke="#000" stroke-width="0.9"/>
<line x1="46.2" y1="15.5" x2="42.7" y2="15.5" stroke="#000" stroke-width="0.9"/>
<line x1="46.2" y1="137.0" x2="42.7" y2="137.0" stroke="#000" stroke-width="0.9"/>
<line x1="46.2" y1="167.05" x2="42.7" y2="167.05" stroke="#000" stroke-width="0.9"/>
<line x1="46.2" y1="197.1" x2="42.7" y2="197.1" stroke="#000" stroke-width="0.9"/>
<line x1="46.2" y1="227.2" x2="42.7" y2="227.2" stroke="#000" stroke-width="0.9"/>
<line x1="46.2" y1="257.25" x2="42.7" y2="257.25" stroke="#000" stroke-width="0.9"/>
<line x1="46.2" y1="384.0" x2="42.7" y2="384.0" stroke="#000" stroke-width="0.9"/>
<line x1="46.2" y1="338.6" x2="42.7" y2="338.6" stroke="#000" stroke-width="0.9"/>
<line x1="46.2" y1="293.2" x2="42.7" y2="293.2" stroke="#000" stroke-width="0.9"/>
<line x1="486.6" y1="25.5" x2="490.1" y2="25.5" stroke="#000" stroke-width="0.8"/>
<line x1="486.6" y1="52.1" x2="490.1" y2="52.1" stroke="#000" stroke-width="0.8"/>
<line x1="486.6" y1="78.6" x2="490.1" y2="78.6" stroke="#000" stroke-width="0.8"/>
<line x1="486.6" y1="105.2" x2="490.1" y2="105.2" stroke="#000" stroke-width="0.8"/>
<rect x="46.2" y="1.6" width="440.40000000000003" height="120.2" fill="none" stroke="#000" stroke-width="1.4"/>
<rect x="46.2" y="137.0" width="440.40000000000003" height="120.25" fill="none" stroke="#000" stroke-width="1.4"/>
<rect x="46.2" y="272.0" width="440.40000000000003" height="120.80000000000001" fill="none" stroke="#000" stroke-width="1.4"/>
<rect x="346.4" y="6.7" width="134.8" height="84.39999999999999" rx="2.5" fill="#fff" fill-opacity="0.99" stroke="#cccccc" stroke-width="1"/>
<line x1="350" y1="16.1" x2="373.8" y2="16.1" stroke="#1f77b4" stroke-width="1.8"/>
<line x1="350.7" y1="32.3" x2="373.1" y2="32.3" stroke="#0000ff" stroke-width="1.3" stroke-dasharray="5.4 1.9"/>
<line x1="350.7" y1="48.4" x2="373.1" y2="48.4" stroke="#00bfbf" stroke-width="1.3" stroke-dasharray="5.4 1.9"/>
<line x1="350.7" y1="64.7" x2="373.1" y2="64.7" stroke="#ff0000" stroke-width="1.3" stroke-dasharray="5.4 1.9"/>
<line x1="350.7" y1="80.8" x2="373.1" y2="80.8" stroke="#555555" stroke-width="1.3" stroke-dasharray="5.4 1.9"/>
<g clip-path="url(#c0)">
<polyline points="89.70,64.70 135.50,47.30 182.50,90.80 206.00,94.90 230.40,101.40 249.00,107.00 271.80,115.80 280.20,102.30 286.70,91.10 296.00,68.70 304.50,50.90 318.30,20.60 328.60,17.80 347.30,11.60 363.60,7.20" fill="none" stroke="#000" stroke-width="1.4" stroke-linejoin="round" stroke-linecap="butt" stroke-dasharray="1.4 2.2"/>
</g>
<rect x="51.6" y="97.1" width="87.5" height="18.700000000000003" rx="2.5" fill="#fff" fill-opacity="0.99" stroke="#cccccc" stroke-width="1"/>
<line x1="55.7" y1="106" x2="79.5" y2="106" stroke="#000" stroke-width="1.4" stroke-dasharray="1.4 2.2" stroke-dashoffset="0.3"/>
<rect x="152.5" y="215.5" width="227.89999999999998" height="36.19999999999999" rx="2.5" fill="#fff" fill-opacity="0.99" stroke="#cccccc" stroke-width="1"/>
<line x1="156.2" y1="223.7" x2="179.6" y2="223.7" stroke="#d62728" stroke-width="1.8"/>
<line x1="156.2" y1="240" x2="179.6" y2="240" stroke="#ff7f0e" stroke-width="1.8"/>
<line x1="275.1" y1="223.7" x2="299.1" y2="223.7" stroke="#2ca02c" stroke-width="1.5" stroke-opacity="0.75"/>
<rect x="51.5" y="277.8" width="125.1" height="35.599999999999966" rx="2.5" fill="#fff" fill-opacity="0.99" stroke="#cccccc" stroke-width="1"/>
<line x1="54.9" y1="286.4" x2="79" y2="286.4" stroke="#8c564b" stroke-width="1.5"/>
<line x1="54.9" y1="302.9" x2="79" y2="302.9" stroke="#e377c2" stroke-width="1.5"/>
<g style="font-family:'Liberation Sans',sans-serif;font-weight:bold" fill="#000">
<text transform="translate(33.75,126.50) scale(1.2600,1)" font-size="11.25">0</text>
<text transform="translate(25.88,91.00) scale(1.2600,1)" font-size="11.25">50</text>
<text transform="translate(18.00,55.40) scale(1.2600,1)" font-size="11.25">100</text>
<text transform="translate(18.00,19.80) scale(1.2600,1)" font-size="11.25">150</text>
<text transform="translate(25.88,141.30) scale(1.2600,1)" font-size="11.25">10</text>
<text transform="translate(33.44,171.35) scale(1.2600,1)" font-size="11.25">5</text>
<text transform="translate(33.75,201.40) scale(1.2600,1)" font-size="11.25">0</text>
<text transform="translate(25.25,231.50) scale(1.2600,1)" font-size="11.25">−5</text>
<text transform="translate(17.38,261.55) scale(1.2600,1)" font-size="11.25">−10</text>
<text transform="translate(33.75,388.30) scale(1.2600,1)" font-size="11.25">0</text>
<text transform="translate(33.44,342.90) scale(1.2600,1)" font-size="11.25">5</text>
<text transform="translate(25.88,297.50) scale(1.2600,1)" font-size="11.25">10</text>
<text transform="translate(491.25,29.80) scale(1.2600,1)" font-size="11.25">12.5</text>
<text transform="translate(491.25,56.40) scale(1.2600,1)" font-size="11.25">10.0</text>
<text transform="translate(491.57,82.90) scale(1.2600,1)" font-size="11.25">7.5</text>
<text transform="translate(491.57,109.50) scale(1.2600,1)" font-size="11.25">5.0</text>
<text transform="translate(34.39,406.00) scale(1.2600,1)" font-size="11.25">950</text>
<text transform="translate(99.11,406.00) scale(1.2600,1)" font-size="11.25">1000</text>
<text transform="translate(167.92,406.00) scale(1.2600,1)" font-size="11.25">1050</text>
<text transform="translate(237.04,406.00) scale(1.2600,1)" font-size="11.25">1100</text>
<text transform="translate(305.86,406.00) scale(1.2600,1)" font-size="11.25">1150</text>
<text transform="translate(374.36,406.00) scale(1.2600,1)" font-size="11.25">1200</text>
<text transform="translate(443.17,406.00) scale(1.2600,1)" font-size="11.25">1250</text>
<text transform="translate(225.49,19.30) scale(1.2486,1)" font-size="11.25">#16695</text>
<text transform="translate(87.13,109.80) scale(1.1572,1)" font-size="11.25">Density</text>
<text transform="translate(381.73,19.70) scale(1.1665,1)" font-size="11.25">Plasma current</text>
<text transform="translate(381.90,35.60) scale(1.2199,1)" font-size="11.25">TS <tspan font-style="italic">t</tspan>=1115 ms</text>
<text transform="translate(381.90,51.75) scale(1.2199,1)" font-size="11.25">TS <tspan font-style="italic">t</tspan>=1117 ms</text>
<text transform="translate(381.90,67.90) scale(1.2199,1)" font-size="11.25">TS <tspan font-style="italic">t</tspan>=1119 ms</text>
<text transform="translate(381.90,84.05) scale(1.2070,1)" font-size="11.25">TS <tspan font-style="italic">t</tspan>=1121 ms</text>
<text transform="translate(187.63,227.80) scale(1.1368,1)" font-size="11.25">CS current</text>
<text transform="translate(187.35,244.00) scale(1.1326,1)" font-size="11.25"><tspan font-style="italic">U</tspan><tspan font-size="7.9" dy="1.8">loop</tspan></text>
<text transform="translate(306.91,227.80) scale(1.1629,1)" font-size="11.25">Ar gas puff</text>
<text transform="translate(86.87,290.30) scale(1.1121,1)" font-size="11.25">HXR</text>
<text transform="translate(87.41,306.80) scale(1.1498,1)" font-size="11.25">Shielded-HXR</text>
<text transform="translate(246.25,418.70) scale(1.3085,1)" font-size="11.25"><tspan font-style="italic">t</tspan> [ms]</text>
<text transform="translate(11.80,83.32) rotate(-90) scale(1.2837,1)" font-size="11.25"><tspan font-style="italic">I</tspan><tspan font-size="7.9" dy="1.8">p</tspan><tspan dy="-1.8"> [kA]</tspan></text>
<text transform="translate(9.90,256.51) rotate(-90) scale(1.2462,1)" font-size="11.25"><tspan font-style="italic">I</tspan><tspan font-size="7.9" dy="1.8">MFPS</tspan><tspan dy="-1.8"> [kA],</tspan><tspan font-style="italic">U</tspan><tspan font-size="7.9" dy="1.8">loop</tspan><tspan dy="-1.8"> [V]</tspan></text>
<text transform="translate(20.40,365.76) rotate(-90) scale(1.2800,1)" font-size="11.25">HXR [a.u.]</text>
<text transform="translate(532.00,105.03) rotate(-90) scale(1.3194,1)" font-size="11.25"><tspan font-style="italic">n</tspan><tspan font-size="7.9" dy="1.8">e</tspan><tspan dy="-1.8"> [10</tspan><tspan font-size="7.9" dy="-5.5">18</tspan><tspan dy="5.5"> m</tspan><tspan font-size="7.9" dy="-5.5">−3</tspan><tspan dy="5.5">]</tspan></text>
</g></svg>
</body></html>
